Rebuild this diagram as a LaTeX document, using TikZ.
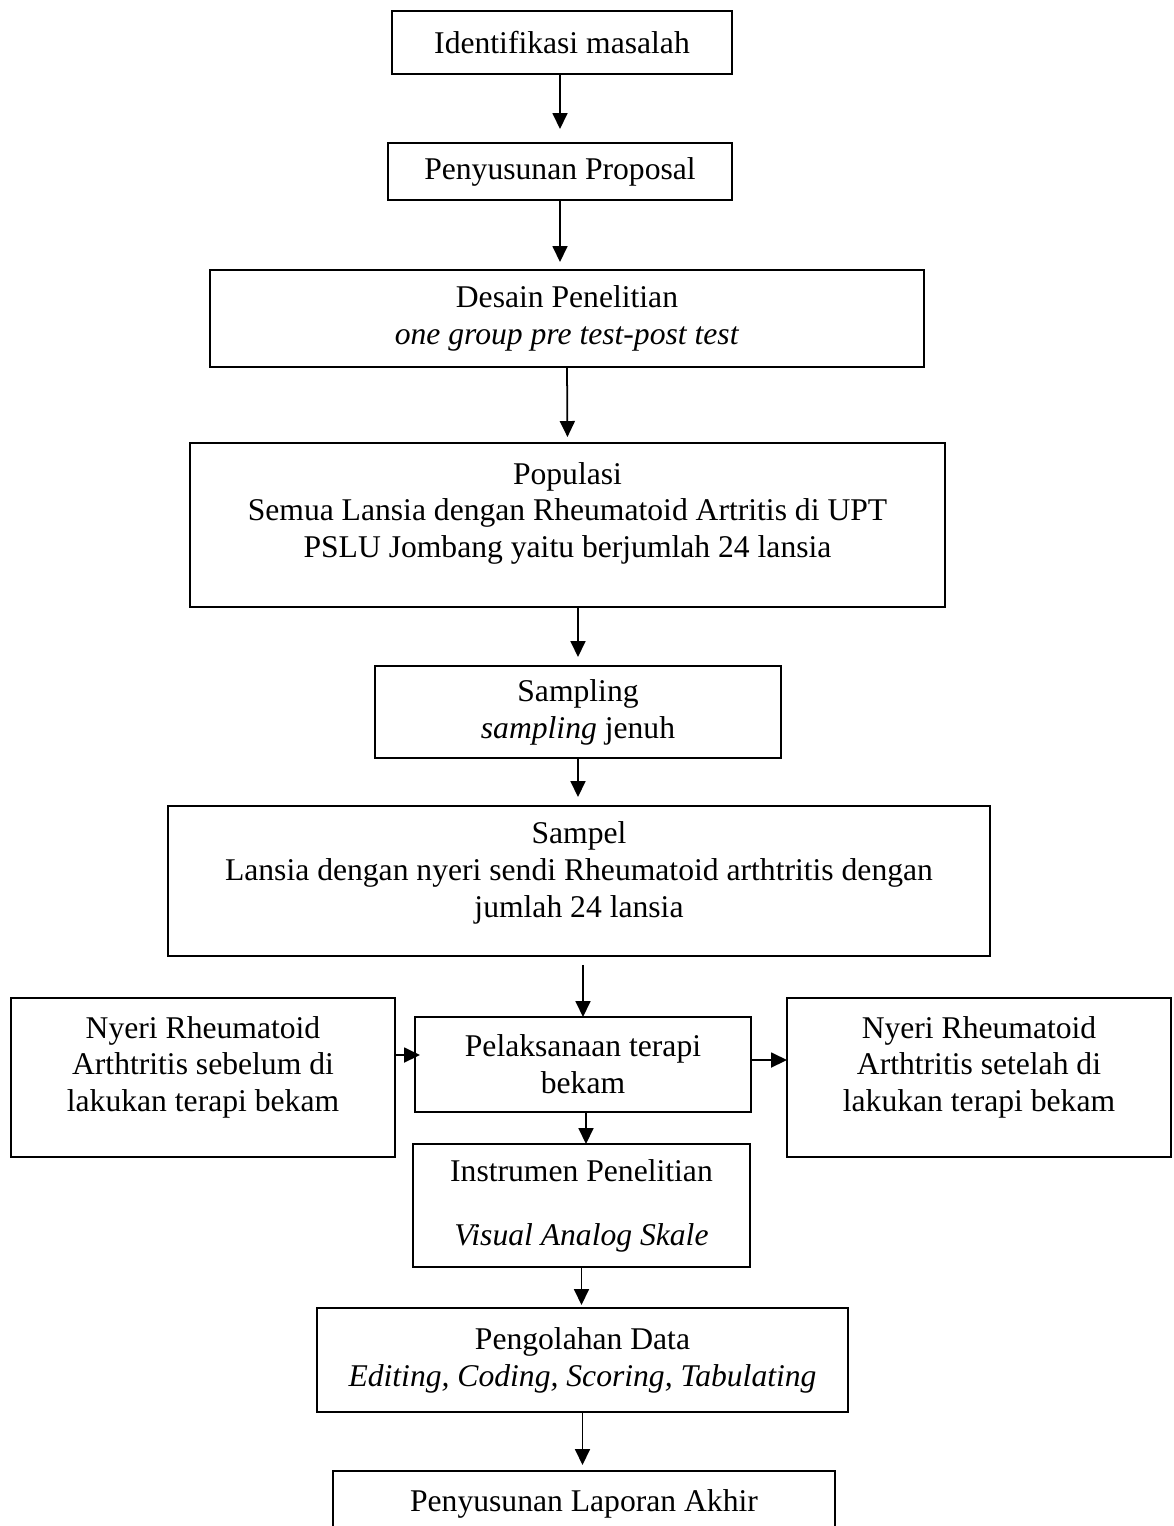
\documentclass[tikz,border=0pt]{standalone}
\usepackage{fontspec}
\setmainfont[Ligatures=CommonOff]{Liberation Serif}
\usetikzlibrary{arrows.meta}
\newcommand{\lowpad}[1]{\rule[-#1]{0pt}{0pt}}

\begin{document}
\begin{tikzpicture}[x=0.02cm, y=-0.02cm,
  every node/.style={outer sep=0pt, inner sep=0pt},
  box/.style={draw, line width=1pt, align=center, font=\fontsize{18}{21}\selectfont},
  arr/.style={-{Triangle[length=0.32cm,width=0.3cm]}, line width=1pt}]
\useasboundingbox (0,0) rectangle (1174,1526);
\clip (0,0) rectangle (1174,1526);

\node[box, minimum width=6.8cm, minimum height=1.26cm] (ident) at (562,42.5) {Identifikasi masalah};
\node[box, minimum width=6.88cm, minimum height=1.14cm] (prop) at (560,171.5) {Penyusunan Proposal};
\node[box, minimum width=14.28cm, minimum height=1.94cm] (desain) at (567,318.5) {Desain Penelitian\\ \textit{one group pre test-post test}};
\node[box, minimum width=15.1cm, minimum height=3.28cm] (pop) at (567.5,525) {Populasi\\ Semua Lansia dengan Rheumatoid Artritis di UPT\\ PSLU Jombang yaitu berjumlah 24 lansia\lowpad{0.6cm}};
\node[box, minimum width=8.12cm, minimum height=1.84cm] (samp) at (578,712) {Sampling\\ \textit{sampling} jenuh};
\node[box, minimum width=16.44cm, minimum height=3cm] (sampel) at (579,881) {Sampel\\ Lansia dengan nyeri sendi Rheumatoid arthtritis dengan\\ jumlah 24 lansia\lowpad{0.46cm}};

\node[box, minimum width=7.68cm, minimum height=3.18cm] (sebelum) at (203,1077.5) {Nyeri Rheumatoid\\ Arthtritis sebelum di\\ lakukan terapi bekam\lowpad{0.54cm}};
\node[box, minimum width=6.72cm, minimum height=1.9cm] (pelak) at (583,1064.5) {Pelaksanaan terapi\\ bekam};
\node[box, minimum width=7.68cm, minimum height=3.18cm] (setelah) at (979,1077.5) {Nyeri Rheumatoid\\ Arthtritis setelah di\\ lakukan terapi bekam\lowpad{0.54cm}};

\node[box, minimum width=6.74cm, minimum height=2.46cm] (instr) at (581.5,1205.5) {Instrumen Penelitian\\[0.54cm] \textit{Visual Analog Skale}};
\node[box, minimum width=10.62cm, minimum height=2.08cm] (olah) at (582.5,1360) {Pengolahan Data\\ \textit{Editing, Coding, Scoring, Tabulating}};
\node[box, minimum width=10.04cm, minimum height=1.32cm] (lapor) at (584,1504) {Penyusunan Laporan Akhir};

% alur utama
\draw[arr, shorten >=0.28cm] (ident.south -| prop) -- (prop.north);
\draw[arr, shorten >=0.16cm] (prop.south) -- (prop.south |- desain.north);
\draw[arr, shorten >=0.12cm] (desain.south) -- (pop.north);
\draw[arr, shorten >=0.18cm] (pop.south -| samp) -- (samp.north);
\draw[arr, shorten >=0.18cm] (samp.south) -- (samp.south |- sampel.north);
\draw[arr, shorten <=0.18cm] (sampel.south -| pelak) -- (pelak.north);
\draw[arr] ([xshift=0.06cm]pelak.south) -- ([xshift=0.06cm]pelak.south |- instr.north);
\draw[arr, shorten >=0.06cm] (instr.south) -- (instr.south |- olah.north);
\draw[arr, shorten >=0.12cm] (olah.south) -- (olah.south |- lapor.north);

% sebelum dan sesudah
\draw[arr] ([yshift=0.19cm]sebelum.east |- pelak.west) -- ([yshift=0.19cm,xshift=0.1cm]pelak.west);
\draw[arr] ([yshift=0.09cm]pelak.east) -- ([yshift=0.09cm]pelak.east -| setelah.west);
\end{tikzpicture}
\end{document}
